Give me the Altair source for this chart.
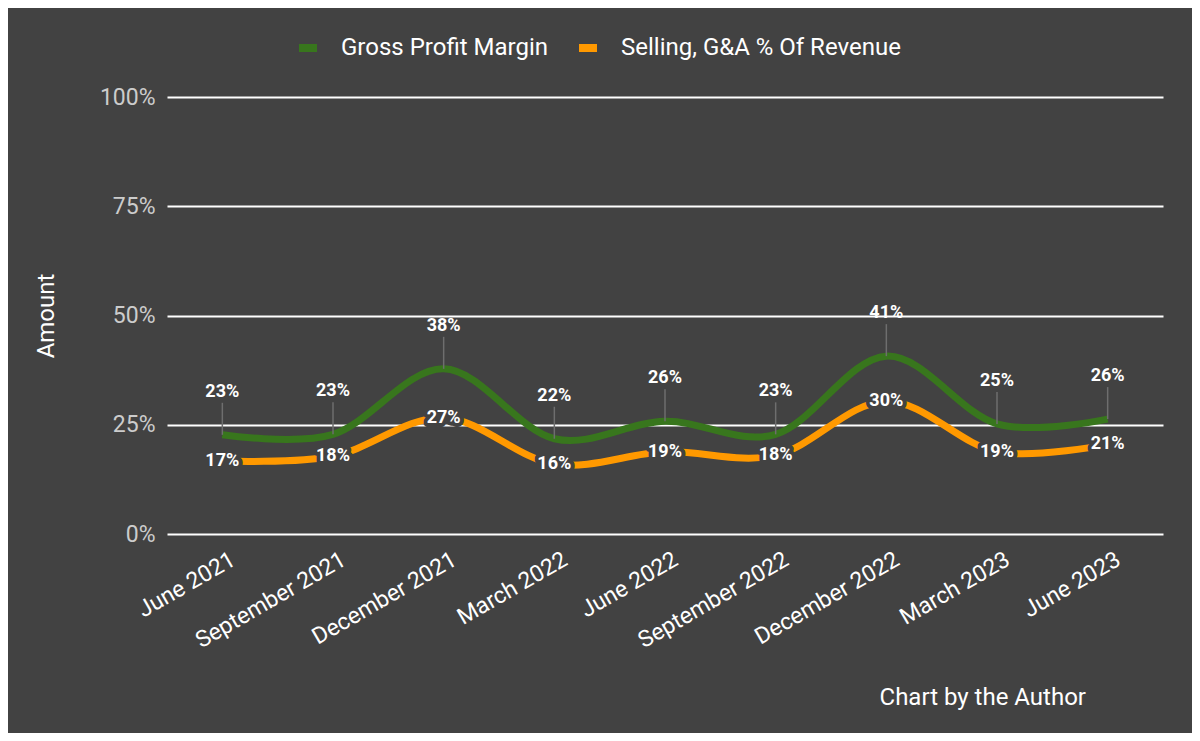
import altair as alt
import pandas as pd

quarters = ["June 2021", "September 2021", "December 2021", "March 2022", "June 2022",
            "September 2022", "December 2022", "March 2023", "June 2023"]
gross_margin = [0.227, 0.228, 0.378, 0.218, 0.258, 0.228, 0.407, 0.252, 0.263]
sga_pct = [0.167, 0.178, 0.266, 0.160, 0.188, 0.180, 0.304, 0.188, 0.205]
series_names = ["Gross Profit Margin", "Selling, G&A % Of Revenue"]
series_colors = ["#38761d", "#ff9900"]

rows = []
for q, g, s in zip(quarters, gross_margin, sga_pct):
    rows.append({"quarter": q, "series": series_names[0], "value": g})
    rows.append({"quarter": q, "series": series_names[1], "value": s})
df = pd.DataFrame(rows)

FONT = "Roboto"
BG = "#424242"

x_enc = alt.X("quarter:N", sort=quarters, title=None,
              scale=alt.Scale(type="point", padding=0.5),
              axis=alt.Axis(labelAngle=-30, labelAlign="right", labelBaseline="top",
                            labelColor="#ffffff", labelFontSize=23, labelFont=FONT,
                            labelPadding=14, ticks=False, domain=False, grid=False,
                            labelOverlap=False, labelLimit=300, labelOffset=5))
y_enc = alt.Y("value:Q", title="Amount",
              scale=alt.Scale(domain=[0, 1]),
              axis=alt.Axis(values=[0, 0.25, 0.5, 0.75, 1], format=".0%",
                            labelColor="#cccccc", labelFontSize=23, labelFont=FONT,
                            labelPadding=12, ticks=False, domain=False,
                            grid=True, gridColor="#ffffff", gridWidth=2,
                            titleColor="#ffffff", titleFontSize=24, titleFont=FONT,
                            titleFontWeight="normal", titlePadding=41))

color_enc = alt.Color("series:N", sort=series_names,
                      scale=alt.Scale(domain=series_names, range=series_colors),
                      legend=alt.Legend(title=None, orient="none", direction="horizontal",
                                        legendX=128, legendY=-62,
                                        labelColor="#ffffff", labelFontSize=24, labelFont=FONT,
                                        symbolType="stroke", symbolSize=324,
                                        symbolStrokeWidth=8, labelOffset=20,
                                        columnPadding=15, labelLimit=400))

base = alt.Chart(df).encode(x=x_enc)

lines = base.mark_line(interpolate="cardinal", strokeWidth=7, strokeCap="butt").encode(
    y=y_enc, color=color_enc)

green = base.transform_filter(alt.datum.series == series_names[0])
orange = base.transform_filter(alt.datum.series == series_names[1])

leaders = green.mark_rule(color="#6e6e6e", strokeWidth=1.5, y2Offset=-32).encode(
    y=alt.Y("value:Q"), y2=alt.Y2("value"))

green_labels = green.mark_text(dy=-43, fontSize=18, fontWeight="bold", font=FONT,
                               color="#ffffff").encode(
    y=alt.Y("value:Q"), text=alt.Text("value:Q", format=".0%"))

orange_halo = orange.mark_text(fontSize=18, fontWeight="bold", font=FONT,
                               color=BG, stroke=BG, strokeWidth=8,
                               strokeJoin="round").encode(
    y=alt.Y("value:Q"), text=alt.Text("value:Q", format=".0%"))
orange_labels = orange.mark_text(fontSize=18, fontWeight="bold", font=FONT,
                                 color="#ffffff").encode(
    y=alt.Y("value:Q"), text=alt.Text("value:Q", format=".0%"))

chart = alt.layer(lines, leaders, green_labels, orange_halo, orange_labels).properties(
    width=996, height=437,
    background=BG,
    autosize="none",
    padding={"left": 159, "top": 89, "right": 29, "bottom": 199},
    title=alt.TitleParams("Chart by the Author", orient="bottom", anchor="end",
                          color="#ffffff", fontSize=24, font=FONT, fontWeight="normal",
                          offset=34, dx=-77),
).configure_view(stroke=None).configure_axis(labelFont=FONT)

chart.save("out.html", embed_options={"renderer": "svg", "actions": False})
